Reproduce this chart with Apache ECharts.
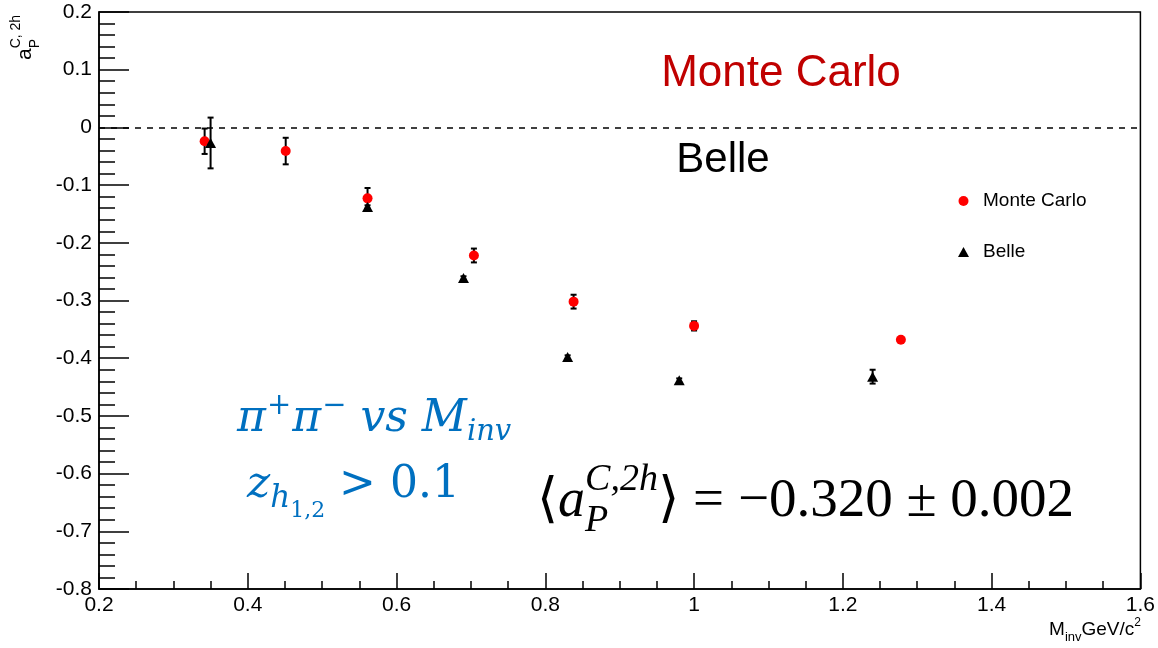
<!DOCTYPE html>
<html><head><meta charset="utf-8">
<script src="https://cdn.jsdelivr.net/npm/echarts@6/dist/echarts.min.js"></script>
<style>html,body{margin:0;padding:0;background:#fff}#c{width:1158px;height:648px}</style>
</head><body><div id="c"></div>
<script>
// ---- data ----
const mcX = [0.342, 0.451, 0.561, 0.704, 0.838, 1.000, 1.278];
const mcY = [-0.024, -0.041, -0.123, -0.222, -0.302, -0.344, -0.368];
const mcErr = [0.022, 0.023, 0.018, 0.012, 0.012, 0.008, 0.003];
const belleX = [0.350, 0.561, 0.690, 0.830, 0.980, 1.240];
const belleY = [-0.027, -0.138, -0.261, -0.398, -0.438, -0.432];
const belleErr = [0.044, 0.003, 0.003, 0.003, 0.003, 0.012];
const xTickLabels = ['0.2', '0.4', '0.6', '0.8', '1', '1.2', '1.4', '1.6'];
const yTickLabels = ['-0.8', '-0.7', '-0.6', '-0.5', '-0.4', '-0.3', '-0.2', '-0.1', '0', '0.1', '0.2'];
const seriesNames = ['Monte Carlo', 'Belle'];

// ---- helpers ----
const mctx = document.createElement('canvas').getContext('2d');
function fontStr(p, fam) { return (p.it ? 'italic ' : 'normal ') + 'normal ' + p.s + 'px ' + fam; }
function measure(t, font) { mctx.font = font; return mctx.measureText(t).width; }
// lays out text pieces along a baseline; returns zrender text elements
function mathLine(x0, base, parts, color, fam, align) {
  let x = 0, prevStart = 0;
  const items = [];
  parts.forEach(p => {
    const f = p.fam || fam;
    const w = measure(p.t, fontStr(p, f));
    const start = p.stack ? prevStart : x + (p.dx || 0);
    items.push({ t: p.t, s: p.s, it: p.it, f, x: start, dy: p.dy || 0 });
    prevStart = start;
    x = Math.max(x + (p.dx || 0), start + w);
  });
  const shift = align === 'right' ? x0 - x : (align === 'center' ? x0 - x / 2 : x0);
  return items.map(it => ({
    type: 'text', x: shift + it.x, y: base + it.dy - 0.3 * it.s, silent: true,
    style: { text: it.t, fill: color, fontSize: it.s, fontFamily: it.f,
      fontStyle: it.it ? 'italic' : 'normal', align: 'left', verticalAlign: 'middle' }
  }));
}
function labelFrom(list) {
  return v => { const m = list.find(l => Math.abs(parseFloat(l) - v) < 1e-6); return m === undefined ? '' : m; };
}
function errRender(params, api) {
  const x = api.value(0), y = api.value(1), e = api.value(2);
  const p = api.coord([x, y + e]), q = api.coord([x, y - e]);
  const w = 3, st = { stroke: '#000', lineWidth: 2 };
  return { type: 'group', children: [
    { type: 'line', shape: { x1: p[0], y1: p[1], x2: q[0], y2: q[1] }, style: st },
    { type: 'line', shape: { x1: p[0] - w, y1: p[1], x2: p[0] + w, y2: p[1] }, style: st },
    { type: 'line', shape: { x1: q[0] - w, y1: q[1], x2: q[0] + w, y2: q[1] }, style: st }
  ]};
}

const SERIF = '"Liberation Serif", "DejaVu Serif", serif';
const DSERIF = '"DejaVu Serif", serif';
const SANS = '"Liberation Sans", Arial, sans-serif';

const graphics = [];
// y-axis title (rotated)
graphics.push({ type: 'group', x: 32, y: 60, rotation: Math.PI / 2, children: mathLine(0, 0, [
  { t: 'a', s: 21 },
  { t: 'C, 2h', s: 14, dy: -12 },
  { t: 'P', s: 14, dy: 7, stack: true }
], '#000', SANS, 'left') });
// x-axis title
mathLine(1141, 635, [
  { t: 'M', s: 19 }, { t: 'inv', s: 13, dy: 6 }, { t: 'GeV/c', s: 19 }, { t: '2', s: 12, dy: -9 }
], '#000', SANS, 'right').forEach(g => graphics.push(g));
// annotations
graphics.push({ type: 'text', x: 781, y: 74, silent: true, style: { text: 'Monte Carlo', fill: '#C00000', fontSize: 44, fontFamily: SANS, align: 'center', verticalAlign: 'middle' } });
graphics.push({ type: 'text', x: 723, y: 160, silent: true, style: { text: 'Belle', fill: '#000', fontSize: 42, fontFamily: SANS, align: 'center', verticalAlign: 'middle' } });
mathLine(237, 433, [
  { t: 'π', s: 44, it: true }, { t: '+', s: 29, dy: -18, dx: 1 },
  { t: 'π', s: 44, it: true, dx: 1 }, { t: '−', s: 29, dy: -18, dx: 1 },
  { t: ' vs ', s: 44, it: true }, { t: 'M', s: 44, it: true }, { t: 'inv', s: 29, it: true, dy: 8 }
], '#0070C0', DSERIF, 'left').forEach(g => graphics.push(g));
mathLine(247, 499, [
  { t: 'z', s: 44, it: true }, { t: 'h', s: 31, it: true, dy: 9 }, { t: '1,2', s: 22, dy: 19 },
  { t: ' > 0.1', s: 44 }
], '#0070C0', DSERIF, 'left').forEach(g => graphics.push(g));
mathLine(537, 518, [
  { t: '⟨', s: 54 }, { t: 'a', s: 54, it: true }, { t: 'C,2h', s: 38, it: true, dy: -27 },
  { t: 'P', s: 38, it: true, dy: 14, stack: true },
  { t: '⟩ = −0.320 ± 0.002', s: 55 }
], '#000', SERIF, 'left').forEach(g => graphics.push(g));

const option = {
  animation: false,
  backgroundColor: '#fff',
  grid: { left: 99, right: 17, top: 12, bottom: 59, show: true, borderColor: '#000', borderWidth: 1.5, backgroundColor: 'transparent' },
  xAxis: {
    type: 'value', min: 0.2, max: 1.6, interval: 0.2,
    axisLine: { show: true, onZero: false, lineStyle: { color: '#000', width: 1.5 } },
    axisTick: { show: true, inside: true, length: 16, lineStyle: { color: '#000', width: 1.5 } },
    minorTick: { show: true, splitNumber: 4, length: 8, lineStyle: { color: '#000', width: 1.5 } },
    splitLine: { show: false },
    axisLabel: { color: '#000', fontSize: 21, fontFamily: SANS, margin: 6, formatter: labelFrom(xTickLabels), showMinLabel: true, showMaxLabel: true }
  },
  yAxis: {
    type: 'value', min: -0.8, max: 0.2, interval: 0.1,
    axisLine: { show: true, onZero: false, lineStyle: { color: '#000', width: 1.5 } },
    axisTick: { show: true, inside: true, length: 30, lineStyle: { color: '#000', width: 1.5 } },
    minorTick: { show: true, splitNumber: 5, length: 16, lineStyle: { color: '#000', width: 1.5 } },
    splitLine: { show: false },
    axisLabel: { color: '#000', fontSize: 21, fontFamily: SANS, margin: 7, formatter: labelFrom(yTickLabels), showMinLabel: true, showMaxLabel: true }
  },
  legend: {
    left: 953, top: 186, orient: 'vertical', itemWidth: 11, itemHeight: 10, itemGap: 31,
    textStyle: { color: '#000', fontSize: 19, fontFamily: SANS, padding: [0, 0, 0, 9], lineHeight: 20 },
    data: [{ name: seriesNames[0], icon: 'circle' }, { name: seriesNames[1], icon: 'triangle' }]
  },
  series: [
    { type: 'custom', name: 'mcErr', renderItem: errRender, z: 3,
      data: mcX.map((x, i) => [x, mcY[i], mcErr[i]]) },
    { type: 'custom', name: 'belleErr', renderItem: errRender, z: 5,
      data: belleX.map((x, i) => [x, belleY[i], belleErr[i]]) },
    { type: 'scatter', name: seriesNames[0], symbol: 'circle', symbolSize: 10, z: 4,
      itemStyle: { color: '#FF0000', opacity: 1 },
      data: mcX.map((x, i) => [x, mcY[i]]),
      markLine: { silent: true, symbol: 'none', label: { show: false },
        lineStyle: { color: '#000', type: [6, 6], width: 1.5 }, data: [{ yAxis: 0 }] } },
    { type: 'scatter', name: seriesNames[1], symbol: 'triangle', symbolSize: [11, 10], z: 6,
      itemStyle: { color: '#000', opacity: 1 },
      data: belleX.map((x, i) => [x, belleY[i]]) }
  ],
  graphic: graphics
};
const chart = echarts.init(document.getElementById('c'), null, { renderer: 'canvas' });
chart.setOption(option);
</script></body></html>
